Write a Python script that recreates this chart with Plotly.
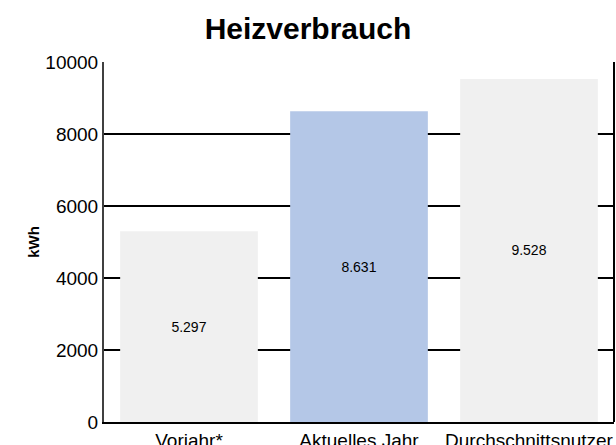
import plotly.graph_objects as go

categories = ["Vorjahr*", "Aktuelles Jahr", "Durchschnittsnutzer"]
values = [5297, 8631, 9528]
bar_colors = ["#f0f0f0", "#b4c7e7", "#f0f0f0"]
y_ticks = [0, 2000, 4000, 6000, 8000, 10000]

W, H = 616, 445

fig = go.Figure(go.Bar(
    x=categories, y=values,
    marker=dict(color=bar_colors, line=dict(width=0)),
    texttemplate="%{y:,.0f}",
    textposition="inside", insidetextanchor="middle",
    textfont=dict(size=14, color="black", family="Liberation Sans, Arial"),
    width=0.81,
))

fig.update_layout(
    width=W, height=H,
    margin=dict(l=104, r=2, t=62, b=23),
    paper_bgcolor="white", plot_bgcolor="white",
    separators=",.",
    showlegend=False,
    font=dict(family="Liberation Sans, Arial", color="black"),
    title=dict(text="<b>Heizverbrauch</b>", x=0.5, xanchor="center",
               yref="container", y=1 - 28 / H, yanchor="middle",
               font=dict(size=30, color="black")),
    bargap=0.19,
)
fig.update_xaxes(
    showline=True, linecolor="black", linewidth=2, mirror=False,
    ticks="", tickfont=dict(size=19), showgrid=False, automargin=False,
)
fig.update_yaxes(
    range=[0, 10000], tickvals=y_ticks, tickformat="d",
    showline=True, linecolor="#404040", linewidth=2,
    ticks="", tickfont=dict(size=19),
    showgrid=True, gridcolor="black", gridwidth=1.5,
    zeroline=False, automargin=False,
    title=dict(text="<b>kWh</b>", font=dict(size=15), standoff=2),
)
# right border
fig.add_shape(type="line", xref="paper", yref="paper", x0=1, x1=1, y0=0, y1=1,
              line=dict(color="black", width=2))

fig.write_html("out.html", config={"displayModeBar": False},
               post_script="document.body.style.margin='0';")
